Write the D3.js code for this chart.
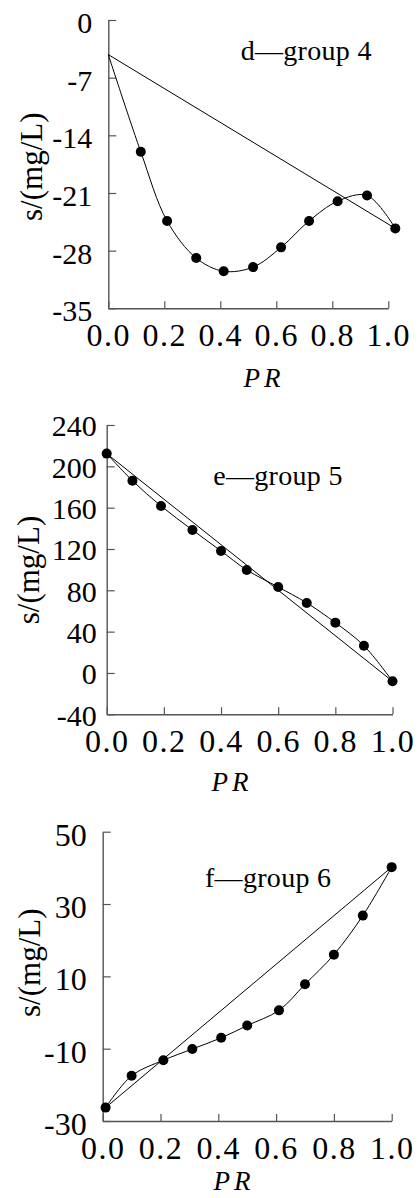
<!DOCTYPE html>
<html>
<head>
<meta charset="utf-8">
<script src="https://cdn.jsdelivr.net/npm/d3@7"></script>
<style>
  html, body { margin: 0; padding: 0; background: #fff; }
  svg { display: block; }
</style>
</head>
<body>
<svg id="chart" width="420" height="1198"></svg>
<script>
// ---- data ----
const prTicks = [0, 0.2, 0.4, 0.6, 0.8, 1.0];
const sTicksD = [0, -7, -14, -21, -28, -35];
const sTicksE = [240, 200, 160, 120, 80, 40, 0, -40];
const sTicksF = [50, 30, 10, -10, -30];

const prD = [0, 0.116, 0.21, 0.314, 0.412, 0.517, 0.617, 0.717, 0.819, 0.924, 1.025];
const sD  = [-4.2, -16.0, -24.4, -28.9, -30.5, -30.0, -27.6, -24.4, -22.0, -21.3, -25.3];

const prE = [0, 0.09, 0.19, 0.30, 0.40, 0.49, 0.60, 0.70, 0.80, 0.90, 1.0];
const sE  = [212.3, 186.1, 161.6, 138.4, 118.1, 99.7, 83.2, 67.8, 48.7, 26.4, -8.0];

const prF = [0.01, 0.10, 0.21, 0.31, 0.41, 0.50, 0.61, 0.70, 0.80, 0.90, 1.0];
const sF  = [-26.3, -17.5, -13.2, -10.1, -7.0, -3.6, 0.6, 7.8, 16.0, 26.8, 40.2];

const groupLabels = ["d\u2014group 4", "e\u2014group 5", "f\u2014group 6"];
const xTitle = "PR";
const yTitle = "s/(mg/L)";

// ---- layout ----
const FONT = "'Liberation Serif', 'Times New Roman', serif";
const svg = d3.select("#chart");

const panels = [
  { pr: prD, s: sD, ticks: sTicksD, label: groupLabels[0], firstDot: 1,
    xr: [108.3, 388.3], yr: [308.3, 20], ylabSize: 30, ylabPad: 16, ydy: "0.42em",
    ann: [240.7, 60], yt: [31.7, 166.7], xt: [264, 387] },
  { pr: prE, s: sE, ticks: sTicksE, label: groupLabels[1], firstDot: 0,
    xr: [106.7, 392.5], yr: [714.3, 425], ylabSize: 30, ylabPad: 10, ydy: "0.36em",
    ann: [213.3, 485], yt: [28, 570], xt: [232, 791] },
  { pr: prF, s: sF, ticks: sTicksF, label: groupLabels[2], firstDot: 0,
    xr: [102.7, 391.7], yr: [1121, 831.7], ylabSize: 32, ylabPad: 16, ydy: "0.42em",
    ann: [205, 886.7], yt: [29, 962.7], xt: [234, 1190] }
];

panels.forEach(p => {
  const g = svg.append("g");
  const yDom = d3.extent(p.ticks);
  const x = d3.scaleLinear().domain([0, 1]).range(p.xr);
  const y = d3.scaleLinear().domain(yDom).range(p.yr);

  // y axis (ticks inward)
  const ya = g.append("g")
    .attr("transform", `translate(${p.xr[0]},0)`)
    .call(d3.axisLeft(y).tickValues(p.ticks).tickSizeInner(-8).tickSizeOuter(0)
      .tickPadding(p.ylabPad).tickFormat(d => String(d)));
  ya.selectAll("text").attr("font-family", FONT).attr("font-size", p.ylabSize)
    .attr("fill", "#000").attr("dy", p.ydy);

  // x axis (ticks inward)
  const xa = g.append("g")
    .attr("transform", `translate(0,${p.yr[0]})`)
    .call(d3.axisBottom(x).tickValues(prTicks).tickSizeInner(-7).tickSizeOuter(0)
      .tickPadding(15).tickFormat(d3.format(".1f")));
  xa.selectAll("text").attr("font-family", FONT).attr("font-size", 32)
    .attr("fill", "#000").attr("letter-spacing", 1.5);

  [ya, xa].forEach(a => {
    a.select(".domain").attr("stroke", "#555").attr("stroke-width", 1.4);
    a.selectAll(".tick line").attr("stroke", "#555").attr("stroke-width", 1.2);
  });

  const pts = p.pr.map((v, i) => [v, p.s[i]]);
  const first = pts[0], last = pts[pts.length - 1];

  // straight chord
  g.append("line")
    .attr("x1", x(first[0])).attr("y1", y(first[1]))
    .attr("x2", x(last[0])).attr("y2", y(last[1]))
    .attr("stroke", "#000").attr("stroke-width", 1);

  // smooth curve
  const line = d3.line().x(d => x(d[0])).y(d => y(d[1])).curve(d3.curveCatmullRom.alpha(0.5));
  g.append("path").attr("d", line(pts))
    .attr("fill", "none").attr("stroke", "#000").attr("stroke-width", 1);

  // dots
  g.selectAll("circle.dot").data(pts.slice(p.firstDot)).join("circle")
    .attr("class", "dot")
    .attr("cx", d => x(d[0])).attr("cy", d => y(d[1]))
    .attr("r", 5).attr("fill", "#000");

  // annotation
  g.append("text").attr("x", p.ann[0]).attr("y", p.ann[1])
    .attr("font-family", FONT).attr("font-size", 28).attr("letter-spacing", 0.3)
    .attr("fill", "#000").text(p.label);

  // y title
  g.append("text")
    .attr("transform", `translate(${p.yt[0]},${p.yt[1]}) rotate(-90)`)
    .attr("text-anchor", "middle").attr("dominant-baseline", "central")
    .attr("font-family", FONT).attr("font-size", 31).attr("fill", "#000")
    .text(yTitle);

  // x title
  g.append("text").attr("x", p.xt[0]).attr("y", p.xt[1])
    .attr("text-anchor", "middle")
    .attr("font-family", FONT).attr("font-size", 27).attr("font-style", "italic")
    .attr("letter-spacing", 4).attr("fill", "#000")
    .text(xTitle);
});
</script>
</body>
</html>
